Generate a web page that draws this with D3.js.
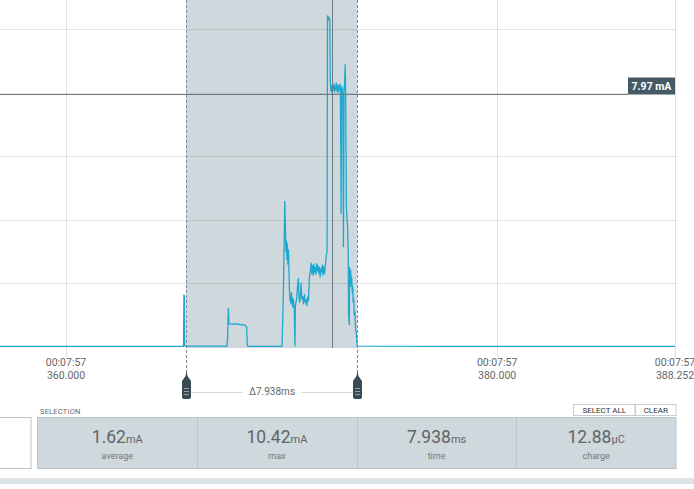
<!DOCTYPE html>
<html><head><meta charset="utf-8">
<script src="https://cdn.jsdelivr.net/npm/d3@7"></script>
<style>
body{margin:0;background:#fff;font-family:Roboto,"Noto Sans",sans-serif;overflow:hidden}
svg{display:block}
</style></head><body>
<svg id="c" width="694" height="489"></svg>
<script>
// ---- data ----
const timeMs = [
356.94,360.00,363.00,365.45,365.47,365.49,365.51,
367.47,367.50,367.53,367.56,367.70,367.89,368.07,368.26,368.33,368.38,368.41,368.45,
370.02,370.08,370.15,370.18,370.20,370.22,370.25,370.27,370.29,370.32,370.34,370.36,370.39,
370.41,370.43,370.46,370.48,370.50,370.52,370.55,370.57,370.59,370.62,370.64,
370.70,370.74,370.78,370.81,370.84,370.88,370.90,370.94,370.98,371.02,371.06,371.10,371.14,
371.17,371.22,371.25,371.29,371.34,371.37,
371.40,371.43,371.47,371.50,371.53,371.56,371.60,371.63,371.66,371.69,371.73,371.76,371.79,
371.82,371.86,371.89,371.92,371.95,371.99,372.02,372.05,372.08,372.11,
372.13,372.16,372.19,372.22,372.24,372.26,
372.29,372.32,372.34,372.37,372.40,372.43,372.46,372.48,372.51,372.54,372.57,372.59,372.62,
372.65,372.68,372.71,372.73,372.76,372.78,372.81,372.84,372.87,372.90,372.92,372.95,372.97,
373.01,373.03,373.06,373.09,373.11,373.14,373.16,373.18,373.21,373.23,373.25,373.28,373.30,
373.32,373.35,373.37,373.40,373.43,373.46,373.49,373.51,378.00,383.00,388.252];
const currentMA = [
0.01,0.01,0.01,0.01,1.64,1.60,0.02,
0.02,0.35,1.20,0.73,0.71,0.72,0.70,0.69,0.65,0.62,0.04,0.01,
0.01,1.58,4.58,3.63,3.00,3.35,2.75,3.25,2.60,3.05,2.50,1.90,1.45,
1.60,1.35,1.70,1.40,1.55,1.25,1.50,1.30,1.20,0.03,1.30,
1.50,1.90,2.15,1.55,1.40,1.70,2.00,1.50,1.58,1.35,1.65,1.40,1.48,
1.30,1.58,1.45,2.17,2.42,2.63,
2.30,2.55,2.25,2.60,2.35,2.50,2.28,2.62,2.40,2.55,2.30,2.50,2.20,
2.45,2.35,2.58,2.25,2.52,2.30,2.48,2.70,2.90,3.00,
10.42,10.28,10.38,10.34,10.20,8.30,
8.05,8.22,8.00,8.18,8.08,8.28,8.02,8.20,8.10,8.30,8.05,8.25,8.00,
8.22,8.08,8.28,8.10,4.20,8.05,8.20,7.95,3.15,8.10,8.20,8.88,8.10,
4.40,4.10,3.80,3.00,1.00,0.70,2.50,2.00,2.40,1.90,2.20,1.70,1.90,
1.40,1.50,1.00,1.10,0.60,0.45,0.20,0.02,0.01,0.01,0.01];
const yTicks = [2, 4, 6, 8, 10];
const xTicks = [360, 380, 388.252];
const xTickClock = ["00:07:57", "00:07:57", "00:07:57"];
const xTickMs = ["360.000", "380.000", "388.252"];
const selection = [365.568, 373.506];
const cursorTime = 372.32;
const cursorValue = 7.97;
const statValues = ["1.62", "10.42", "7.938", "12.88"];
const statUnits = ["mA", "mA", "ms", "\u00B5C"];
const statLabels = ["average", "max", "time", "charge"];

// ---- drawing ----
const svg = d3.select("#c");
const x = d3.scaleLinear().domain([356.937, 388.252]).range([0, 675]);
const y = d3.scaleLinear().domain([-0.04, 10.92]).range([348, 0]);
const plotH = 348;

// selection background
svg.append("rect")
  .attr("x", x(selection[0])).attr("y", 0)
  .attr("width", x(selection[1]) - x(selection[0])).attr("height", plotH)
  .attr("fill", "#cfd8dc");

// grid
svg.append("g").selectAll("line").data(yTicks).join("line")
  .attr("x1", 0).attr("x2", 676)
  .attr("y1", d => Math.round(y(d)) + 0.5).attr("y2", d => Math.round(y(d)) + 0.5)
  .attr("stroke", "rgba(0,0,0,0.1)");
svg.append("g").selectAll("line").data(xTicks).join("line")
  .attr("x1", d => Math.round(x(d)) + 0.5).attr("x2", d => Math.round(x(d)) + 0.5)
  .attr("y1", 0).attr("y2", 357)
  .attr("stroke", "rgba(0,0,0,0.12)");

// trace
const line = d3.line().x((d, i) => x(timeMs[i])).y(d => y(d));
svg.append("path").datum(currentMA)
  .attr("d", line)
  .attr("fill", "none")
  .attr("stroke", "#1fa8cf")
  .attr("stroke-width", 1.3)
  .attr("stroke-linejoin", "round");

// selection edges (dashed)
selection.forEach(t => {
  svg.append("line")
    .attr("x1", Math.round(x(t)) + 0.5).attr("x2", Math.round(x(t)) + 0.5)
    .attr("y1", 0).attr("y2", 380)
    .attr("stroke", "#7d8c94").attr("stroke-dasharray", "3,2");
});

// cursor
const cx = Math.round(x(cursorTime)) + 0.5;
const cy = Math.round(y(cursorValue)) + 0.5;
svg.append("line").attr("x1", cx).attr("x2", cx).attr("y1", 0).attr("y2", plotH)
  .attr("stroke", "#6b7b83");
svg.append("line").attr("x1", 0).attr("x2", 628).attr("y1", cy).attr("y2", cy)
  .attr("stroke", "#6b7b83");
svg.append("rect").attr("x", 628).attr("y", cy - 17).attr("width", 47).attr("height", 17)
  .attr("fill", "#455a64");
svg.append("text").attr("x", 651.5).attr("y", cy - 5)
  .attr("text-anchor", "middle").attr("fill", "#fff")
  .attr("font-size", 10.5).attr("font-weight", "bold")
  .text(d3.format(".2f")(cursorValue) + " mA");

// x tick labels
const tl = svg.append("g").attr("fill", "#666").attr("font-size", 10.5).attr("text-anchor", "middle");
xTicks.forEach((t, i) => {
  tl.append("text").attr("x", x(t)).attr("y", 366).text(xTickClock[i]);
  tl.append("text").attr("x", x(t)).attr("y", 379).text(xTickMs[i]);
});

// delta label + markers
const sx0 = Math.round(x(selection[0])) + 0.5, sx1 = Math.round(x(selection[1])) + 0.5;
const midX = (sx0 + sx1) / 2;
const dText = svg.append("text").attr("x", midX).attr("y", 395)
  .attr("text-anchor", "middle").attr("fill", "#666").attr("font-size", 10)
  .text("\u0394" + d3.format(".3f")(selection[1] - selection[0]) + "ms");
const tw = dText.node().getComputedTextLength();
svg.append("line").attr("x1", sx0 + 5).attr("x2", midX - tw / 2 - 6)
  .attr("y1", 392.5).attr("y2", 392.5).attr("stroke", "#d3dadd");
svg.append("line").attr("x1", midX + tw / 2 + 6).attr("x2", sx1 - 5)
  .attr("y1", 392.5).attr("y2", 392.5).attr("stroke", "#d3dadd");
[sx0, sx1].forEach(mx => {
  const c = mx;
  svg.append("path")
    .attr("d", `M${c},371 L${c + 1},376 L${c + 4.5},381 L${c + 4.5},397 Q${c + 4.5},399 ${c + 2.5},399 L${c - 2.5},399 Q${c - 4.5},399 ${c - 4.5},397 L${c - 4.5},381 L${c - 1},376 Z`)
    .attr("fill", "#3b4b54");
  [388.5, 391.5, 394.5].forEach(gy => {
    svg.append("line").attr("x1", c - 2.5).attr("x2", c + 2.5).attr("y1", gy).attr("y2", gy)
      .attr("stroke", "#8fa1aa").attr("stroke-width", 1);
  });
});

// bottom panel
svg.append("text").attr("x", 40).attr("y", 413.5).attr("fill", "#666")
  .attr("font-size", 7.5).attr("letter-spacing", 0.2).text("SELECTION");
svg.append("rect").attr("x", -1).attr("y", 417.5).attr("width", 32).attr("height", 51)
  .attr("fill", "#fff").attr("stroke", "#b9c5cb");
svg.append("rect").attr("x", 37.5).attr("y", 417.5).attr("width", 638.5).attr("height", 51)
  .attr("fill", "#cfd8dc").attr("stroke", "#b9c5cb");
const cellW = 638.5 / 4;
statValues.forEach((v, i) => {
  const x0 = 37.5 + i * cellW;
  if (i > 0) svg.append("line").attr("x1", Math.round(x0) + 0.5).attr("x2", Math.round(x0) + 0.5)
    .attr("y1", 418).attr("y2", 468).attr("stroke", "#b9c5cb");
  const t = svg.append("text").attr("x", x0 + cellW / 2).attr("y", 443)
    .attr("text-anchor", "middle").attr("fill", "#5f6468");
  t.append("tspan").attr("font-size", 17.5).text(v);
  t.append("tspan").attr("font-size", 11).text(statUnits[i]);
  svg.append("text").attr("x", x0 + cellW / 2).attr("y", 458.5)
    .attr("text-anchor", "middle").attr("fill", "#777").attr("font-size", 9)
    .text(statLabels[i]);
});
// buttons
const btns = [["SELECT ALL", 573.5, 61.5], ["CLEAR", 635.5, 40.5]];
btns.forEach(([lbl, bx, bw]) => {
  svg.append("rect").attr("x", bx).attr("y", 404.5).attr("width", bw).attr("height", 11)
    .attr("fill", "#fff").attr("stroke", "#c5cdd1");
  svg.append("text").attr("x", bx + bw / 2).attr("y", 413).attr("text-anchor", "middle")
    .attr("fill", "#333").attr("font-size", 8).text(lbl);
});
// bottom bar
svg.append("rect").attr("x", 0).attr("y", 478).attr("width", 694).attr("height", 6)
  .attr("fill", "#dde4e7");
</script>
</body></html>
